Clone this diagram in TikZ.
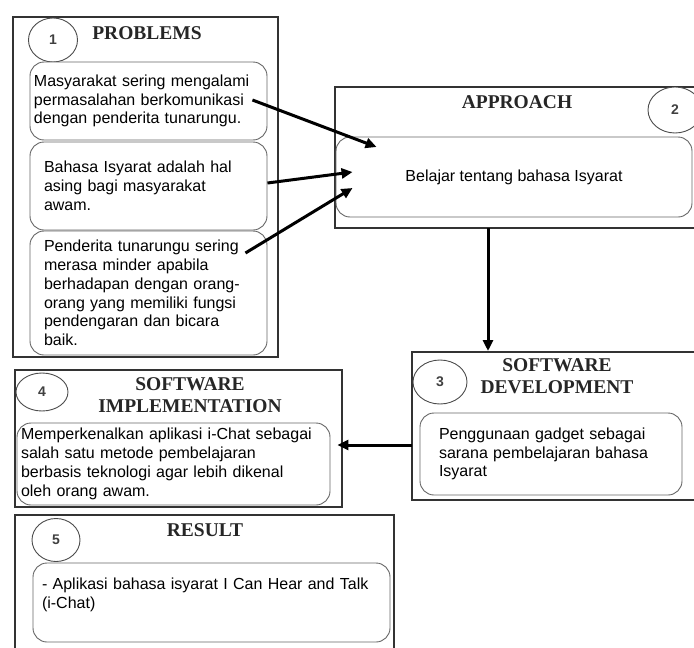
\documentclass[tikz,border=0pt]{standalone}
\usepackage{fontspec}
\setmainfont{Liberation Sans}
\newfontfamily\titlefont{Liberation Serif}
\usetikzlibrary{shapes.geometric,arrows.meta,positioning,calc}

\begin{document}
\begin{tikzpicture}[
  x=1pt, y=-1pt,
  frame/.style = {draw=black!80, line width=1.1pt},
  sub/.style   = {rectangle, rounded corners=14pt, draw=black!60, fill=white,
                  line width=0.9pt, align=left, inner ysep=0pt,
                  font=\fontsize{16}{18.8}\selectfont},
  num/.style   = {ellipse, draw=black!70, fill=white, line width=0.9pt, inner sep=0pt,
                  font=\fontsize{14}{16}\selectfont\bfseries, text=black!75},
  ttl/.style   = {align=center, text=black!85,
                  font=\titlefont\fontsize{19.5}{22}\selectfont\bfseries},
  arr/.style   = {-{Triangle[length=11pt,width=10pt]}, line width=3pt}
]
\useasboundingbox (0,0) rectangle (694,648);

%% Frames
\draw[frame] (13,17) rectangle (278,357);
\draw[frame] (694,87) -- (335,87) -- (335,228) -- (694,228);
\draw[frame] (694,352) -- (412,352) -- (412,500) -- (694,500);
\draw[frame] (15,370) rectangle (342,507);
\draw[frame] (15,648) -- (15,515) -- (394,515) -- (394,648);

%% 1 Problems
\node[num, minimum width=49pt, minimum height=44pt] (n1) at (53,40) {1};
\node[ttl] (problems) at (147,33) {PROBLEMS};
\node[sub, text width=229pt, inner xsep=4pt, minimum height=78pt] (p1a) at (148.5,101)
  {Masyarakat sering mengalami\\permasalahan berkomunikasi\\dengan penderita tunarungu.};
\node[sub, text width=209pt, inner xsep=14pt, minimum height=88pt] (p1b) at (148.5,186)
  {Bahasa Isyarat adalah hal\\asing bagi masyarakat\\awam.};
\node[sub, text width=209pt, inner xsep=14pt, minimum height=124pt] (p1c) at (148.5,293)
  {Penderita tunarungu sering\\merasa minder apabila\\berhadapan dengan orang-\\orang yang memiliki fungsi\\pendengaran dan bicara\\baik.};

%% 2 Approach
\node[num, minimum width=54pt, minimum height=46pt] (n2) at (675,110) {2};
\node[ttl] (approach) at (517,102) {APPROACH};
\node[sub, align=center, minimum width=356pt, minimum height=80pt] (appr) at (514,177)
  {Belajar tentang bahasa Isyarat};

%% 3 Software development
\node[num, minimum width=54pt, minimum height=44pt] (n3) at (440,382) {3};
\node[ttl] (develop) at (557,376) {SOFTWARE\\DEVELOPMENT};
\node[sub, text width=224pt, inner xsep=19pt, minimum height=82pt] (dev) at (551,454)
  {Penggunaan gadget sebagai\\sarana pembelajaran bahasa\\Isyarat};

%% 4 Software implementation
\node[num, minimum width=52pt, minimum height=38pt] (n4) at (42,392) {4};
\node[ttl] (implement) at (190,395) {SOFTWARE\\IMPLEMENTATION};
\node[sub, text width=305pt, inner xsep=4pt, minimum height=82pt] (impl) at (173.5,464)
  {Memperkenalkan aplikasi i-Chat sebagai\\salah satu metode pembelajaran\\berbasis teknologi agar lebih dikenal\\oleh orang awam.};

%% 5 Result
\node[num, minimum width=48pt, minimum height=43pt] (n5) at (56,540) {5};
\node[ttl] (result) at (205,530) {RESULT};
\node[sub, text width=339pt, inner xsep=9pt, minimum height=79pt] (res) at (211.5,602.5)
  {- Aplikasi bahasa isyarat I Can Hear and Talk\\(i-Chat)\\~};

%% Connector ends on the frames
\coordinate (aprBot)  at (488,228);
\coordinate (devTop)  at (488,351);
\coordinate (devLeft) at (412,445);

%% Arrows
\draw[arr] ([xshift=-15pt,yshift=1pt]p1a.east) -- ([xshift=41pt,yshift=30pt]appr.west);
\draw[arr] ([yshift=3pt]p1b.east) -- ([xshift=17pt,yshift=5pt]appr.west);
\draw[arr] ([xshift=-22pt,yshift=40pt]p1c.east) -- ([xshift=17pt,yshift=-11pt]appr.west);
\draw[arr] (aprBot) -- (devTop);
\draw[arr] (devLeft) -- ([xshift=7pt,yshift=19pt]impl.east);
\end{tikzpicture}
\end{document}
